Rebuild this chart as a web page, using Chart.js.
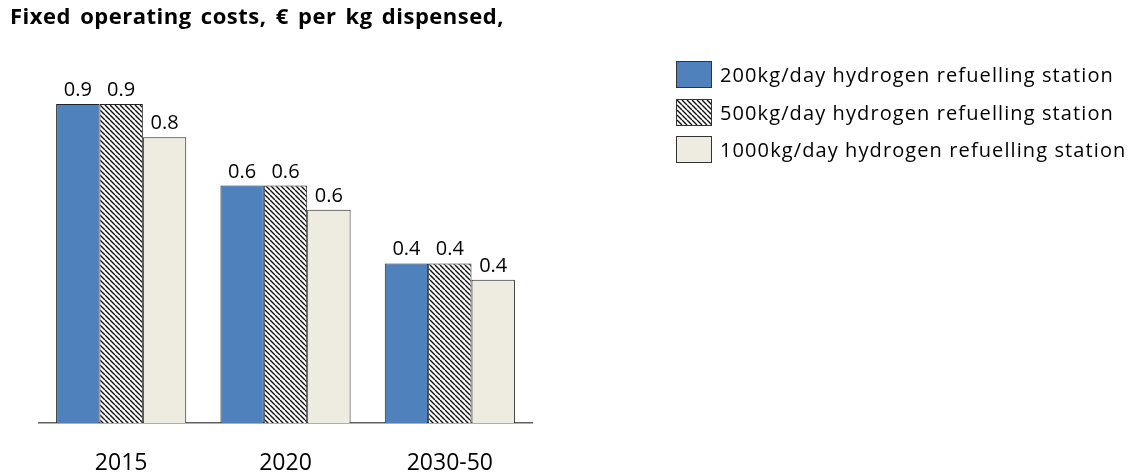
<!DOCTYPE html>
<html>
<head>
<meta charset="utf-8">
<script src="https://cdn.jsdelivr.net/npm/chart.js@4.4.1/dist/chart.umd.min.js"></script>
<style>
  html, body { margin: 0; padding: 0; background: #fff; }
  #wrap { position: relative; width: 1140px; height: 475px; overflow: hidden; }
  #chart { position: absolute; left: 0; top: 0; }
  #title {
    position: absolute; left: 10px; top: 0px;
    font: bold 22px "Open Sans", sans-serif; color: #000; white-space: nowrap;
    word-spacing: 3px; letter-spacing: 0.5px;
  }
  #legend { position: absolute; left: 676px; top: 56px; }
  .item { display: flex; align-items: center; height: 37.5px; }
  .swatch { width: 34px; height: 25px; border: 1.5px solid #333; margin-right: 8px; }
  .label { font: 20px "Open Sans", sans-serif; color: #000; white-space: nowrap; letter-spacing: 1.1px; }
</style>
</head>
<body>
<div id="wrap">
  <canvas id="chart" width="1140" height="475"></canvas>
  <div id="title">Fixed operating costs, € per kg dispensed,</div>
  <div id="legend"></div>
</div>
<script>
// Données du graphique
const CATEGORIES = ["2015", "2020", "2030-50"];
const SERIES_NAMES = [
  "200kg/day hydrogen refuelling station",
  "500kg/day hydrogen refuelling station",
  "1000kg/day hydrogen refuelling station",
];
const STATION_200 = [0.86, 0.64, 0.43];
const STATION_500 = [0.86, 0.64, 0.43];
const STATION_1000 = [0.77, 0.575, 0.386];

// Motif hachuré pour la série 500kg/day
function makeHatch() {
  const s = 5;
  const c = document.createElement("canvas");
  c.width = s;
  c.height = s;
  const x = c.getContext("2d");
  x.fillStyle = "#fff";
  x.fillRect(0, 0, s, s);
  x.strokeStyle = "#111";
  x.lineWidth = 1.4;
  x.beginPath();
  [-s, 0, s].forEach((o) => {
    x.moveTo(o, 0);
    x.lineTo(o + s, s);
  });
  x.stroke();
  return c;
}

const hatchCanvas = makeHatch();
const ctx = document.getElementById("chart").getContext("2d");
const hatch = ctx.createPattern(hatchCanvas, "repeat");

const COLORS = ["#4F81BD", hatch, "#EEECE1"];
const SWATCHES = ["#4F81BD", "url(" + hatchCanvas.toDataURL() + ")", "#EEECE1"];

// Étiquettes de valeur au-dessus des barres
const valueLabels = {
  id: "valueLabels",
  afterDatasetsDraw(chart) {
    const c = chart.ctx;
    c.save();
    c.font = "20px 'Open Sans', sans-serif";
    c.fillStyle = "#000";
    c.textAlign = "center";
    c.textBaseline = "alphabetic";
    chart.data.datasets.forEach((ds, i) => {
      chart.getDatasetMeta(i).data.forEach((bar, j) => {
        const v = Math.round(ds.data[j] * 10) / 10;
        c.fillText(v.toFixed(1), bar.x, bar.y - 8);
      });
    });
    c.restore();
  },
};

new Chart(ctx, {
  type: "bar",
  data: {
    labels: CATEGORIES,
    datasets: [STATION_200, STATION_500, STATION_1000].map((d, i) => ({
      label: SERIES_NAMES[i],
      data: d,
      backgroundColor: COLORS[i],
      borderColor: "#222",
      borderWidth: 1,
      categoryPercentage: 0.792,
      barPercentage: 1,
    })),
  },
  options: {
    responsive: false,
    animation: false,
    layout: { padding: { left: 39, right: 608, top: 52, bottom: 0 } },
    plugins: {
      legend: { display: false },
      title: { display: false },
      tooltip: { enabled: false },
    },
    scales: {
      x: {
        grid: { display: false, drawTicks: false },
        border: { display: true, color: "#606060", width: 1.5 },
        ticks: {
          padding: 27,
          color: "#000",
          font: { family: "'Open Sans', sans-serif", size: 23, lineHeight: 1.2 },
        },
        afterFit(scale) {
          scale.height = 52;
        },
      },
      y: { display: false, min: 0, max: 1 },
    },
  },
  plugins: [valueLabels],
});

// Légende HTML
const legend = document.getElementById("legend");
SERIES_NAMES.forEach((name, i) => {
  const item = document.createElement("div");
  item.className = "item";
  const sw = document.createElement("div");
  sw.className = "swatch";
  sw.style.background = SWATCHES[i];
  const lb = document.createElement("span");
  lb.className = "label";
  lb.textContent = name;
  item.appendChild(sw);
  item.appendChild(lb);
  legend.appendChild(item);
});
</script>
</body>
</html>
